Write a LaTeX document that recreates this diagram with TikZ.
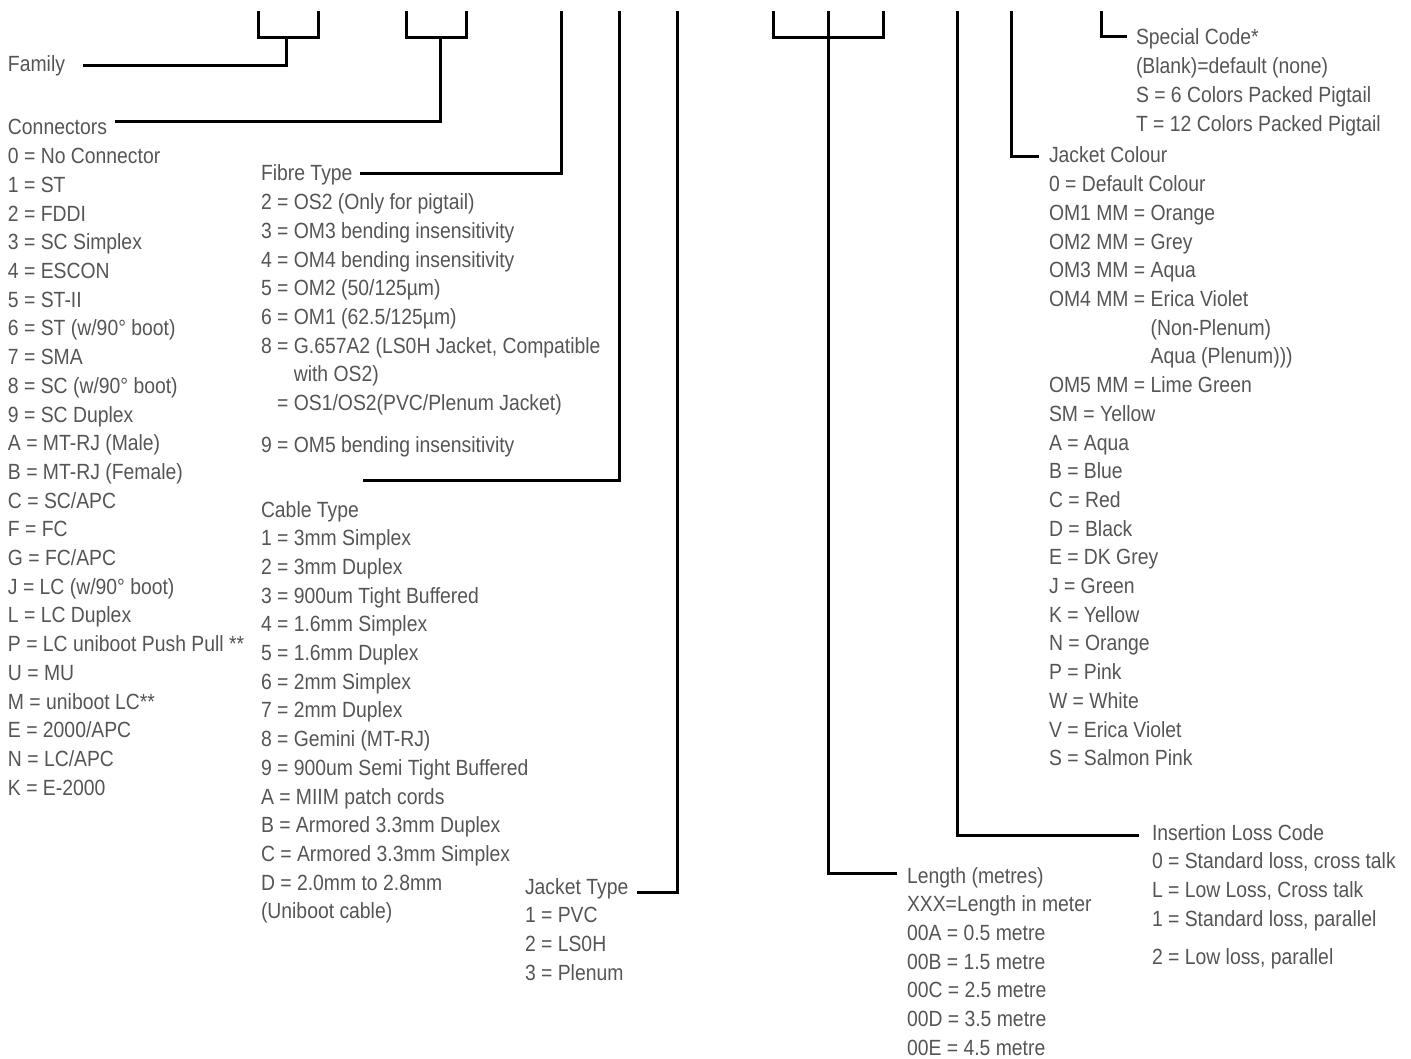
\documentclass[tikz,border=0pt]{standalone}
\usepackage{fontspec}
\setmainfont{Liberation Sans}[FakeStretch=0.88]
\definecolor{txtgray}{RGB}{85,85,87}
\begin{document}
\begin{tikzpicture}[x=1pt,y=-1pt,
  lbl/.style={inner sep=0pt, outer sep=0pt, anchor=base west, align=left, text=txtgray,
    font=\fontsize{22}{28.7}\selectfont},
  conn/.style={draw=black, line width=3pt}]
\useasboundingbox (0,0) rectangle (1411,1059);

% ---------- titles ----------
\node[lbl] (fam) at (8,72) {Family};
\node[lbl] (con) at (8,135) {Connectors};
\node[lbl] (fib) at (261,181) {Fibre Type};
\node[lbl] (cab) at (261,517) {Cable Type};
\node[lbl] (jt)  at (525,894) {Jacket Type};
\node[lbl] (len) at (907,883) {Length (metres)};
\node[lbl] (ins) at (1152,840) {Insertion Loss Code};
\node[lbl] (jc)  at (1049,163) {Jacket Colour};
\node[lbl] (sp)  at (1136,45) {Special Code*};

% ---------- lists (placed by the baseline of their last line) ----------
\node[lbl] (conlist) at (8,795.1) {0 = No Connector\\1 = ST\\2 = FDDI\\3 = SC Simplex\\4 = ESCON\\5 = ST-II\\6 = ST (w/90° boot)\\7 = SMA\\8 = SC (w/90° boot)\\9 = SC Duplex\\A = MT-RJ (Male)\\B = MT-RJ (Female)\\C = SC/APC\\F = FC\\G = FC/APC\\J = LC (w/90° boot)\\L = LC Duplex\\P = LC uniboot Push Pull **\\U = MU\\M = uniboot LC**\\E = 2000/APC\\N = LC/APC\\K = E-2000};

\node[lbl] (fiblist) at (261,452.0) {2 = OS2 (Only for pigtail)\\3 = OM3 bending insensitivity\\4 = OM4 bending insensitivity\\5 = OM2 (50/125µm)\\6 = OM1 (62.5/125µm)\\8 = G.657A2 (LS0H Jacket, Compatible\\\phantom{8 = }with OS2)\\\phantom{8 }= OS1/OS2(PVC/Plenum Jacket)\\[12.7pt]9 = OM5 bending insensitivity};

\node[lbl] (cablist) at (261,918.8) {1 = 3mm Simplex\\2 = 3mm Duplex\\3 = 900um Tight Buffered\\4 = 1.6mm Simplex\\5 = 1.6mm Duplex\\6 = 2mm Simplex\\7 = 2mm Duplex\\8 = Gemini (MT-RJ)\\9 = 900um Semi Tight Buffered\\A = MIIM patch cords\\B = Armored 3.3mm Duplex\\C = Armored 3.3mm Simplex\\D = 2.0mm to 2.8mm\\(Uniboot cable)};

\node[lbl] (jtlist) at (525,980.1) {1 = PVC\\2 = LS0H\\3 = Plenum};

\node[lbl] (lenlist) at (907,1055.2) {XXX=Length in meter\\00A = 0.5 metre\\00B = 1.5 metre\\00C = 2.5 metre\\00D = 3.5 metre\\00E = 4.5 metre};

\node[lbl] (inslist) at (1152,964.8) {0 = Standard loss, cross talk\\L = Low Loss, Cross talk\\1 = Standard loss, parallel\\[10pt]2 = Low loss, parallel};

\node[lbl] (jclist) at (1049,765.7) {0 = Default Colour\\OM1 MM = Orange\\OM2 MM = Grey\\OM3 MM = Aqua\\OM4 MM = Erica Violet\\\phantom{OM4 MM = }(Non-Plenum)\\\phantom{OM4 MM = }Aqua (Plenum)))\\OM5 MM = Lime Green\\SM = Yellow\\A = Aqua\\B = Blue\\C = Red\\D = Black\\E = DK Grey\\J = Green\\K = Yellow\\N = Orange\\P = Pink\\W = White\\V = Erica Violet\\S = Salmon Pink};

\node[lbl] (splist) at (1136,131.1) {(Blank)=default (none)\\S = 6 Colors Packed Pigtail\\T = 12 Colors Packed Pigtail};

% ---------- connector points ----------
\coordinate (b1l) at (258,11.5);
\coordinate (b1r) at (318,37.5);
\coordinate (b1rt) at (318,11.5);
\coordinate (b1s) at (286,37.5);
\coordinate (b2l) at (406,11.5);
\coordinate (b2r) at (466,37.5);
\coordinate (b2rt) at (466,11.5);
\coordinate (b2s) at (440,37.5);
\coordinate (v3) at (561,11.5);
\coordinate (v4) at (619,11.5);
\coordinate (cabend) at (363,480);
\coordinate (v5) at (677,11.5);
\coordinate (b3l) at (773,11.5);
\coordinate (b3r) at (883,37.5);
\coordinate (b3rt) at (883,11.5);
\coordinate (b3m) at (828,11.5);
\coordinate (v7) at (957,11.5);
\coordinate (v8) at (1011,11.5);
\coordinate (v9) at (1101,11.5);

% ---------- brackets ----------
\draw[conn] (b1l) |- (b1r) -- (b1rt);
\draw[conn] (b2l) |- (b2r) -- (b2rt);
\draw[conn] (b3l) |- (b3r) -- (b3rt);

% ---------- connectors ----------
\draw[conn] ([xshift=18pt,yshift=6pt]fam.base east) -| (b1s);
\draw[conn] ([xshift=8pt,yshift=13pt]con.base east) -| (b2s);
\draw[conn] ([xshift=8pt,yshift=7pt]fib.base east) -| (v3);
\draw[conn] (cabend) -| (v4);
\draw[conn] ([xshift=9pt,yshift=2pt]jt.base east) -| (v5);
\draw[conn] (b3m) |- ([xshift=-10pt,yshift=10pt]len.base west);
\draw[conn] (v7) |- ([xshift=-13pt,yshift=5pt]ins.base west);
\draw[conn] (v8) |- ([xshift=-10pt,yshift=6pt]jc.base west);
\draw[conn] (v9) |- ([xshift=-9pt,yshift=8pt]sp.base west);
\end{tikzpicture}
\end{document}
